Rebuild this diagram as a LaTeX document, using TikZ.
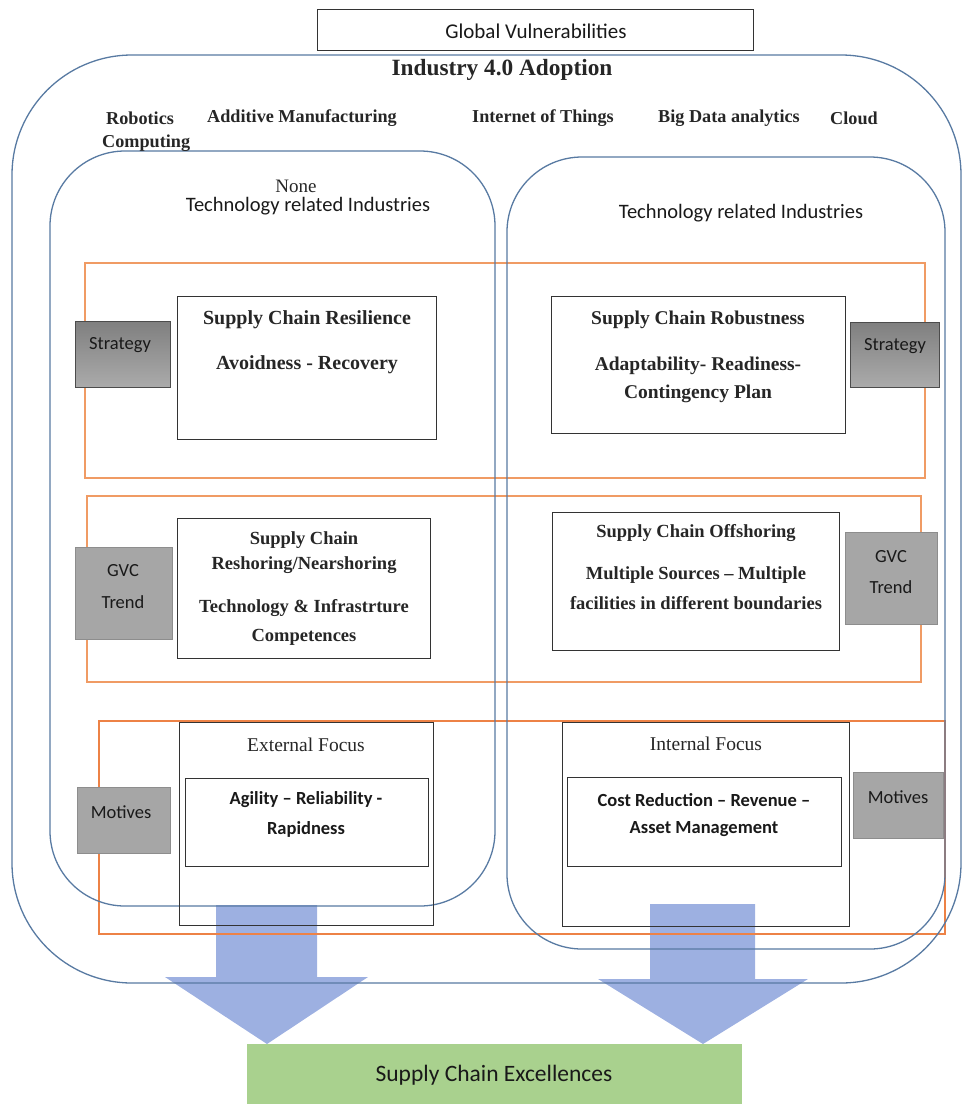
\documentclass[tikz,border=0pt]{standalone}
\usepackage{fontspec}
\setmainfont{Liberation Serif}
\setsansfont{Carlito}
\definecolor{frameblue}{RGB}{88,122,162}
\definecolor{rowor}{RGB}{240,155,100}
\definecolor{rowordark}{RGB}{237,130,70}
\definecolor{tabgray}{RGB}{166,166,166}
\definecolor{arrowblue}{RGB}{140,162,220}
\definecolor{excgreen}{RGB}{169,209,142}
\newcommand{\fs}[1]{\fontsize{#1}{#1}\selectfont}
\tikzset{
  rounded frame/.style={draw=frameblue, line width=1.3pt},
  rowbox/.style={draw=rowor, line width=1.4pt},
  whitebox/.style={draw=black!80, line width=1pt, anchor=north west, inner sep=0pt},
  tab/.style={fill=tabgray, draw=tabgray!85!black, line width=0.4pt, anchor=north west, inner sep=0pt},
  stratab/.style={top color=black!50, bottom color=black!33, draw=black!70, line width=0.9pt, anchor=north west, inner sep=0pt},
  sertxt/.style={font=\fs{18.5}\bfseries, text=black!85, inner sep=0pt},
  sanstxt/.style={font=\sffamily\fs{18.5}, text=black!90, inner sep=0pt},
  sansbold/.style={font=\sffamily\fs{18.5}\bfseries, text=black!90, inner sep=0pt},
  techtxt/.style={font=\fs{18.2}\bfseries, text=black!85, inner sep=0pt, anchor=west},
  bigarrow/.style={fill=arrowblue, fill opacity=0.85, draw=none}
}
\begin{document}
\begin{tikzpicture}[x=1pt,y=-1pt]
\useasboundingbox (0,0) rectangle (963,1104);
% block arrows (below the frames)
\fill[bigarrow] (216,905) -- (317,905) -- (317,977) -- (368,977) -- (267,1044) -- (165,977) -- (216,977) -- cycle;
\fill[bigarrow] (650,904) -- (755,904) -- (755,979) -- (808,979) -- (703,1044) -- (598,979) -- (650,979) -- cycle;
% top box
\node[draw=black!80, line width=1pt, anchor=north west, minimum width=436pt, minimum height=41pt, inner sep=0pt] (gv) at (317,9) {};
\node[sanstxt, font=\sffamily\fs{21}] at (536,31) {Global Vulnerabilities};
% orange rows
\draw[rowbox] (85,263) rectangle (925,478);
\draw[rowbox] (87,496) rectangle (921,682);
\draw[rowbox, draw=rowordark] (99,721) rectangle (945,934);
% frames
\draw[rounded frame, rounded corners=120pt] (12,55) rectangle (961,983);
\draw[rounded frame, rounded corners=75pt] (50,151) rectangle (495,906);
\draw[rounded frame, rounded corners=75pt] (507,157) rectangle (945,949);
% headings
\node[font=\fs{23.3}\bfseries, text=black!85, inner sep=0pt] (ind) at (502,70) {Industry 4.0 Adoption};
\node[techtxt] (rob) at (106,118) {Robotics};
\node[techtxt] (am) at (207,118) {Additive Manufacturing};
\node[techtxt] (iot) at (472,118) {Internet of Things};
\node[techtxt] (bda) at (658,118) {Big Data analytics};
\node[techtxt] (cl) at (830,118) {Cloud};
\node[techtxt] (comp) at (102,143) {Computing};
\node[font=\fs{19}, text=black!85, inner sep=0pt] (none) at (296,186) {None};
\node[sanstxt, font=\sffamily\fs{20.5}] (ntri) at (308,206) {Technology related Industries};
\node[sanstxt, font=\sffamily\fs{20.5}] (tri) at (741,213) {Technology related Industries};
% white boxes
\node[whitebox, minimum width=259pt, minimum height=143pt] (res) at (177,296) {};
\node[sertxt, font=\fs{20}\bfseries] at (307,320) {Supply Chain Resilience};
\node[sertxt, font=\fs{20}\bfseries] at (307,365) {Avoidness - Recovery};
\node[whitebox, minimum width=294pt, minimum height=137pt] (robu) at (551,296) {};
\node[sertxt, font=\fs{19.5}\bfseries] at (698,320) {Supply Chain Robustness};
\node[sertxt, font=\fs{19.5}\bfseries] at (698,366) {Adaptability- Readiness-};
\node[sertxt, font=\fs{19.5}\bfseries] at (698,394) {Contingency Plan};
\node[whitebox, minimum width=253pt, minimum height=140pt] (resh) at (177,518) {};
\node[sertxt] at (304,540) {Supply Chain};
\node[sertxt] at (304,565) {Reshoring/Nearshoring};
\node[sertxt] at (304,608) {Technology \& Infrastrture};
\node[sertxt] at (304,637) {Competences};
\node[whitebox, minimum width=287pt, minimum height=138pt] (offs) at (552,512) {};
\node[sertxt] at (696,533) {Supply Chain Offshoring};
\node[sertxt] at (696,575) {Multiple Sources – Multiple};
\node[sertxt] at (696,603) {facilities in different boundaries};
\node[whitebox, minimum width=254pt, minimum height=203pt] (ext) at (179,722) {};
\node[sertxt, font=\fs{19.5}] at (306,745) {External Focus};
\node[whitebox, minimum width=243pt, minimum height=88pt] (exti) at (185,778) {};
\node[sansbold] at (306,800) {Agility – Reliability -};
\node[sansbold] at (306,829) {Rapidness};
\node[whitebox, minimum width=287pt, minimum height=204pt] (int) at (562,722) {};
\node[sertxt, font=\fs{19.5}] at (706,744) {Internal Focus};
\node[whitebox, minimum width=274pt, minimum height=89pt] (inti) at (567,777) {};
\node[sansbold] at (704,800) {Cost Reduction – Revenue –};
\node[sansbold] at (704,829) {Asset Management};
% side tabs
\node[stratab, minimum width=95pt, minimum height=66pt] (s1) at (75,321) {};
\node[sanstxt] at (120,345) {Strategy};
\node[stratab, minimum width=89pt, minimum height=65pt] (s2) at (850,322) {};
\node[sanstxt] at (895,346) {Strategy};
\node[tab, minimum width=97pt, minimum height=92pt] (g1) at (75,547) {};
\node[sanstxt] at (123,571) {GVC};
\node[sanstxt] at (123,602) {Trend};
\node[tab, minimum width=92pt, minimum height=92pt] (g2) at (845,532) {};
\node[sanstxt] at (891,557) {GVC};
\node[sanstxt] at (891,587) {Trend};
\node[tab, minimum width=93pt, minimum height=66pt] (m1) at (77,787) {};
\node[sanstxt] at (121,812) {Motives};
\node[tab, minimum width=90pt, minimum height=66pt] (m2) at (853,772) {};
\node[sanstxt] at (898,797) {Motives};
% excellence
\node[fill=excgreen, anchor=north west, minimum width=495pt, minimum height=62pt, inner sep=0pt] (exc) at (247,1044) {};
\node[font=\sffamily\fs{23.5}, text=black!90, inner sep=0pt] at (494,1075) {Supply Chain Excellences};
\end{tikzpicture}
\end{document}
